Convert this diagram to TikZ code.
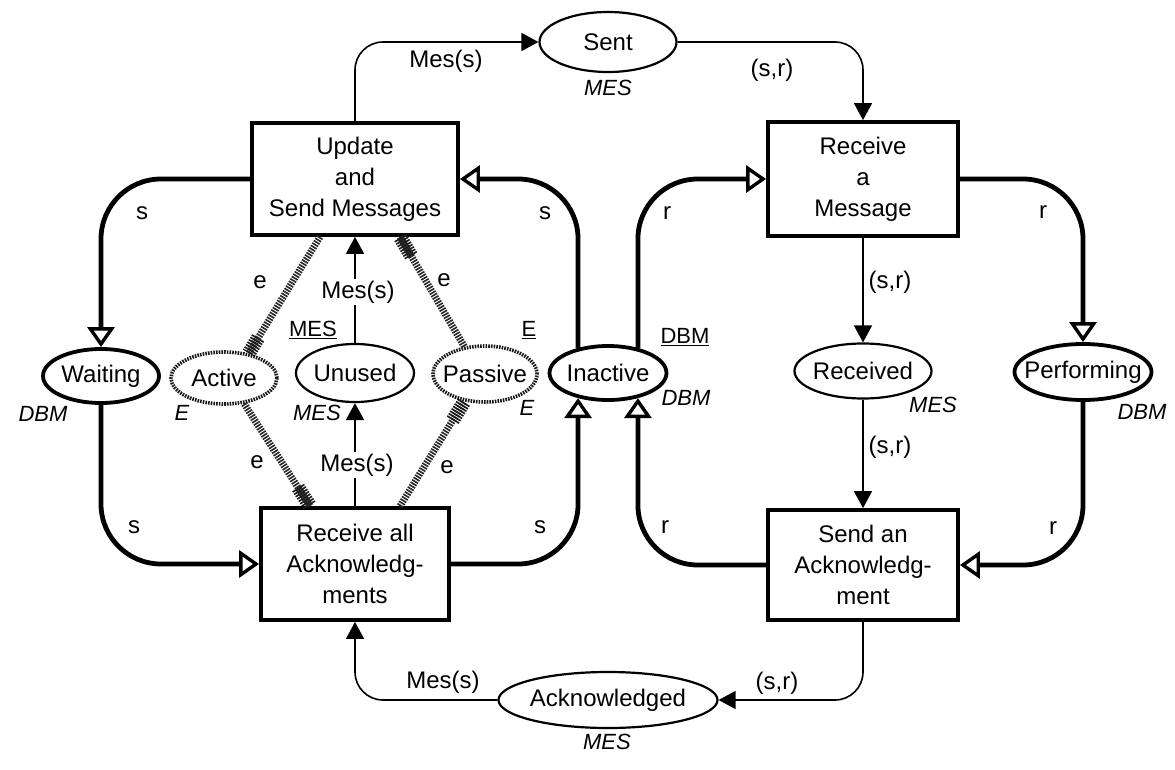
\documentclass[tikz,border=0pt]{standalone}
\usepackage{fontspec}
\setmainfont{Liberation Sans}
\usetikzlibrary{arrows.meta,shapes.geometric,calc}

% zero-width box so that ellipse sizes come from minimum width/height only
\newcommand\ctr[1]{\makebox[0pt]{#1}}

\begin{document}
\begin{tikzpicture}[x=1pt,y=-1pt,
  every node/.style={font=\fontsize{24}{31}\selectfont},
  trans/.style={draw, rectangle, line width=3.8pt, align=center, inner sep=0pt},
  place/.style={draw, ellipse, inner sep=0pt, line width=2.2pt},
  bold place/.style={place, line width=3.8pt},
  fused place/.style={place, line width=3.6pt, black!90, text=black, dash pattern=on 1.6pt off 1.1pt},
  thin arc/.style={line width=1.6pt, rounded corners=28pt, -{Triangle[length=17pt,width=18pt]}},
  thick arc/.style={line width=4.8pt, rounded corners=60pt,
    -{Triangle[length=20pt,width=27pt,line width=3.4pt,fill=white]}},
  hatch/.style={line width=7pt, black!85, dash pattern=on 1.6pt off 1.2pt},
  hatch head/.style={line width=14pt, black!90, dash pattern=on 1.6pt off 1.2pt},
  colset/.style={font=\fontsize{22}{26}\selectfont\itshape},
  initmark/.style={font=\fontsize{22}{26}\selectfont},
  arclab/.style={inner sep=1pt},
  onarc/.style={fill=white, inner sep=2pt}
]
\useasboundingbox (0,0) rectangle (1175,770);
\fill[white] (0,0) rectangle (1175,770);

% transitions
\node[trans, minimum width=206pt, minimum height=112pt] (Update) at (355,179) {Update\\and\\Send Messages};
\node[trans, minimum width=190pt, minimum height=114pt] (RecMsg) at (863,179) {Receive\\a\\Message};
\node[trans, minimum width=188pt, minimum height=112pt] (RecAll) at (355,564) {Receive all\\Acknowledg-\\ments};
\node[trans, minimum width=190pt, minimum height=110pt] (SendAck) at (863,565) {Send an\\Acknowledg-\\ment};

% places
\node[place, minimum width=137pt, minimum height=60pt] (Sent) at (608,42) {\ctr{Sent}};
\node[place, minimum width=219pt, minimum height=56pt] (Ack) at (608,700) {\ctr{Acknowledged}};
\node[bold place, minimum width=116pt, minimum height=54pt] (Waiting) at (101,376) {\ctr{Waiting}};
\node[fused place, minimum width=106pt, minimum height=52pt] (Active) at (224,378) {\ctr{Active}};
\node[place, minimum width=118pt, minimum height=58pt] (Unused) at (355,373) {\ctr{Unused}};
\node[fused place, minimum width=104pt, minimum height=56pt] (Passive) at (485,374) {\ctr{Passive}};
\node[bold place, minimum width=117pt, minimum height=54pt] (Inactive) at (608,373) {\ctr{Inactive}};
\node[place, minimum width=137pt, minimum height=55pt] (Received) at (863,371) {\ctr{Received}};
\node[bold place, minimum width=137pt, minimum height=56pt] (Performing) at (1083,372) {\ctr{Performing}};

% colour sets and initial markings
\node[colset] (csSent) at (608,88) {MES};
\node[colset] (csAck) at (607,742) {MES};
\node[colset] (csWaiting) at (43,414) {DBM};
\node[colset] (csActive) at (182,413) {E};
\node[colset] (csUnused) at (317,413) {MES};
\node[initmark] (imUnused) at (313,330) {\underline{MES}};
\node[colset] (csPassive) at (527,408) {E};
\node[initmark] (imPassive) at (529,330) {\underline{E}};
\node[colset] (csInactive) at (686,398) {DBM};
\node[initmark] (imInactive) at (685,337) {\underline{DBM}};
\node[colset] (csReceived) at (933,405) {MES};
\node[colset] (csPerforming) at (1142,412) {DBM};

% message flow
\draw[thin arc] (Update.north) |- (Sent.west);
\draw[thin arc] (Sent.east) -| (RecMsg.north);
\draw[thin arc] (RecMsg.south) -- (Received.north);
\draw[thin arc] (Received.south) -- (SendAck.north);
\draw[thin arc] (SendAck.south) |- (Ack.east);
\draw[thin arc] (Ack.west) -| (RecAll.south);
\draw[thin arc] (Unused.north) -- (Update.south);
\draw[thin arc] (RecAll.north) -- (Unused.south);

% database managers
\draw[thick arc] (Update.west) -| (Waiting.north);
\draw[thick arc] (Waiting.south) |- (RecAll.west);
\draw[thick arc] (RecAll.east) -| (Inactive.220);
\draw[thick arc] (Inactive.140) |- (Update.east);
\draw[thick arc] (Inactive.40) |- (RecMsg.west);
\draw[thick arc] (RecMsg.east) -| (Performing.north);
\draw[thick arc] (Performing.south) |- (SendAck.east);
\draw[thick arc] (SendAck.west) -| (Inactive.320);

% mutual exclusion arcs (hatched)
\coordinate (uL) at ($(Update.south)+(-35,0)$);
\coordinate (uR) at ($(Update.south)+(45,0)$);
\coordinate (rL) at ($(RecAll.north)+(-45,0)$);
\coordinate (rR) at ($(RecAll.north)+(45,0)$);
\draw[hatch] (uL) -- (Active.45);
\draw[hatch head] ($(Active.45)!18pt!(uL)$) -- (Active.45);
\draw[hatch] (Passive.127) -- (uR);
\draw[hatch head] ($(uR)!22pt!(Passive.127)$) -- (uR);
\draw[hatch] (Active.308) -- (rL);
\draw[hatch head] ($(rL)!22pt!(Active.308)$) -- (rL);
\draw[hatch] (rR) -- (Passive.233);
\draw[hatch head] ($(Passive.233)!22pt!(rR)$) -- (Passive.233);

% arc inscriptions
\node[arclab] (l1) at (446,61) {Mes(s)};
\node[arclab] (l2) at (772,70) {(s,r)};
\node[arclab] (l3) at (890,282) {(s,r)};
\node[arclab] (l4) at (890,447) {(s,r)};
\node[arclab] (l5) at (777,683) {(s,r)};
\node[arclab] (l6) at (443,682) {Mes(s)};
\node[onarc] (l7) at (358,292) {Mes(s)};
\node[onarc] (l8) at (357,465) {Mes(s)};
\node[arclab] (s1) at (142,213) {s};
\node[arclab] (s2) at (134,527) {s};
\node[arclab] (s3) at (545,213) {s};
\node[arclab] (s4) at (540,527) {s};
\node[arclab] (r1) at (667,213) {r};
\node[arclab] (r2) at (1043,212) {r};
\node[arclab] (r3) at (665,527) {r};
\node[arclab] (r4) at (1053,528) {r};
\node[arclab] (e1) at (260,282) {e};
\node[arclab] (e2) at (444,280) {e};
\node[arclab] (e3) at (257,462) {e};
\node[arclab] (e4) at (447,467) {e};
\end{tikzpicture}
\end{document}
